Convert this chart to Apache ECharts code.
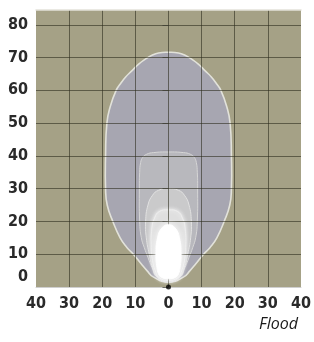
<!DOCTYPE html>
<html>
<head>
<meta charset="utf-8">
<script src="https://cdn.jsdelivr.net/npm/echarts@6/dist/echarts.min.js"></script>
<style>
  html, body { margin: 0; padding: 0; background: #fff; }
  #plot { width: 314px; height: 342px; }
</style>
</head>
<body>
<div id="plot"></div>
<script>
// tick labels
var xTicks = [-40, -30, -20, -10, 0, 10, 20, 30, 40];
var yTicks = [0, 10, 20, 30, 40, 50, 60, 70, 80];

// contour half profiles: height (y) and half width (x)
var outerY = [71.6, 71.4, 70.7, 69.5, 68, 66, 64, 62, 60, 55, 50, 40, 30, 25, 20, 15, 12, 10, 7, 5, 3, 1.5];
var outerW = [0, 3, 5, 7, 9, 11, 13, 14.5, 15.8, 17.6, 18.6, 19, 19, 18.5, 16.8, 14.6, 12.5, 10.6, 8.2, 6.5, 4.5, 0];

var secondY = [41.2, 41, 40.5, 39.5, 38, 35, 30, 20, 15, 12, 9, 6, 3, 1.5];
var secondW = [0, 4.5, 6.6, 7.8, 8.4, 8.7, 8.8, 8.7, 8.2, 7.3, 6.2, 5, 3.5, 0];

var thirdY = [30, 29.5, 28, 25, 20, 15, 10, 6, 3, 1.5];
var thirdW = [0, 3, 4.8, 6.2, 6.9, 6.7, 5.8, 4.8, 3.3, 0];

var fourthY = [23.5, 23, 21, 18, 12, 8, 5, 3, 2];
var fourthW = [0, 2.8, 4.2, 5, 5.2, 4.8, 4, 3, 0];

var coreY = [19, 18, 15, 10, 6, 4, 3, 2.5];
var coreW = [0, 2, 3.3, 3.8, 3.5, 3, 2.2, 0];

var origin = [[0, 0]];

var myChart = echarts.init(document.getElementById('plot'));

// 构造闭合轮廓（左右对称）
function contourSeries(ys, ws, fill, stroke, lw, z, blur) {
  return {
    type: 'custom',
    z: z,
    silent: true,
    data: [0],
    renderItem: function (params, api) {
      var pts = [];
      for (var i = 0; i < ys.length; i++) pts.push(api.coord([ws[i], ys[i]]));
      for (var j = ys.length - 2; j >= 1; j--) pts.push(api.coord([-ws[j], ys[j]]));
      return {
        type: 'polygon',
        shape: { points: pts, smooth: 0.5 },
        style: {
          fill: fill,
          stroke: stroke,
          lineWidth: lw,
          shadowBlur: blur || 0,
          shadowColor: blur ? 'rgba(255,255,255,0.9)' : 'transparent'
        }
      };
    }
  };
}

var labelFont = 'DejaVu Sans Condensed, Liberation Sans Narrow, sans-serif';
var gridDark = 'rgba(45,45,30,0.6)';

var option = {
  animation: false,
  title: {
    text: 'Flood',
    right: 11,
    top: 311,
    textStyle: { fontStyle: 'italic', fontWeight: 'normal', fontSize: 16, color: '#1a1a1a', fontFamily: 'Open Sans, sans-serif' }
  },
  grid: {
    left: 36, right: 11, top: 10, bottom: 55,
    show: true, backgroundColor: '#a5a186', borderWidth: 0
  },
  xAxis: [{
    type: 'value',
    min: xTicks[0], max: xTicks[xTicks.length - 1], interval: 10,
    z: 3,
    axisLine: { show: true, lineStyle: { color: '#cfcfcf', width: 1 } },
    axisTick: { show: false },
    axisLabel: {
      margin: 9, color: '#2a2a2a', fontSize: 16, fontWeight: 600, fontFamily: labelFont,
      formatter: function (v) { return Math.abs(v) + ''; }
    },
    splitLine: { show: true, showMinLine: false, showMaxLine: false, lineStyle: { color: gridDark, width: 1 } }
  }, {
    // 顶部浅色边线
    type: 'value',
    position: 'top',
    min: xTicks[0], max: xTicks[xTicks.length - 1],
    z: 5,
    axisLine: { show: true, lineStyle: { color: '#e4e2da', width: 1.5 } },
    axisTick: { show: false },
    axisLabel: { show: false },
    splitLine: { show: false }
  }],
  yAxis: {
    type: 'value',
    min: yTicks[0], max: 84.5, interval: 10,
    z: 3,
    axisLine: { show: false },
    axisTick: { show: true, length: 6, lineStyle: { color: 'rgba(60,60,50,0.7)' } },
    axisLabel: {
      margin: 8, color: '#2a2a2a', fontSize: 16, fontWeight: 600, fontFamily: labelFont,
      showMaxLabel: false,
      formatter: function (v) {
        if (yTicks.indexOf(v) < 0) return '';
        return v === 0 ? '{z|0}' : v + '';
      },
      rich: { z: { fontSize: 16, fontWeight: 600, fontFamily: labelFont, color: '#2a2a2a', padding: [0, 0, 20, 0] } }
    },
    splitLine: { show: true, showMaxLine: false, lineStyle: { color: gridDark, width: 1 } }
  },
  series: [
    contourSeries(outerY, outerW, '#a7a6b1', '#e2e2da', 1.6, 2),
    contourSeries(secondY, secondW, '#b8b8bd', '#d6d6d6', 1, 2),
    contourSeries(thirdY, thirdW, '#cacacb', '#e2e2e2', 1, 2),
    contourSeries(fourthY, fourthW, '#dfdfdf', '#eeeeee', 1, 2, 4),
    contourSeries(coreY, coreW, '#ffffff', '#ffffff', 1, 4, 6),
    {
      type: 'scatter',
      z: 6,
      silent: true,
      symbolSize: 5,
      itemStyle: { color: '#000' },
      data: origin
    }
  ]
};

myChart.setOption(option);
</script>
</body>
</html>
